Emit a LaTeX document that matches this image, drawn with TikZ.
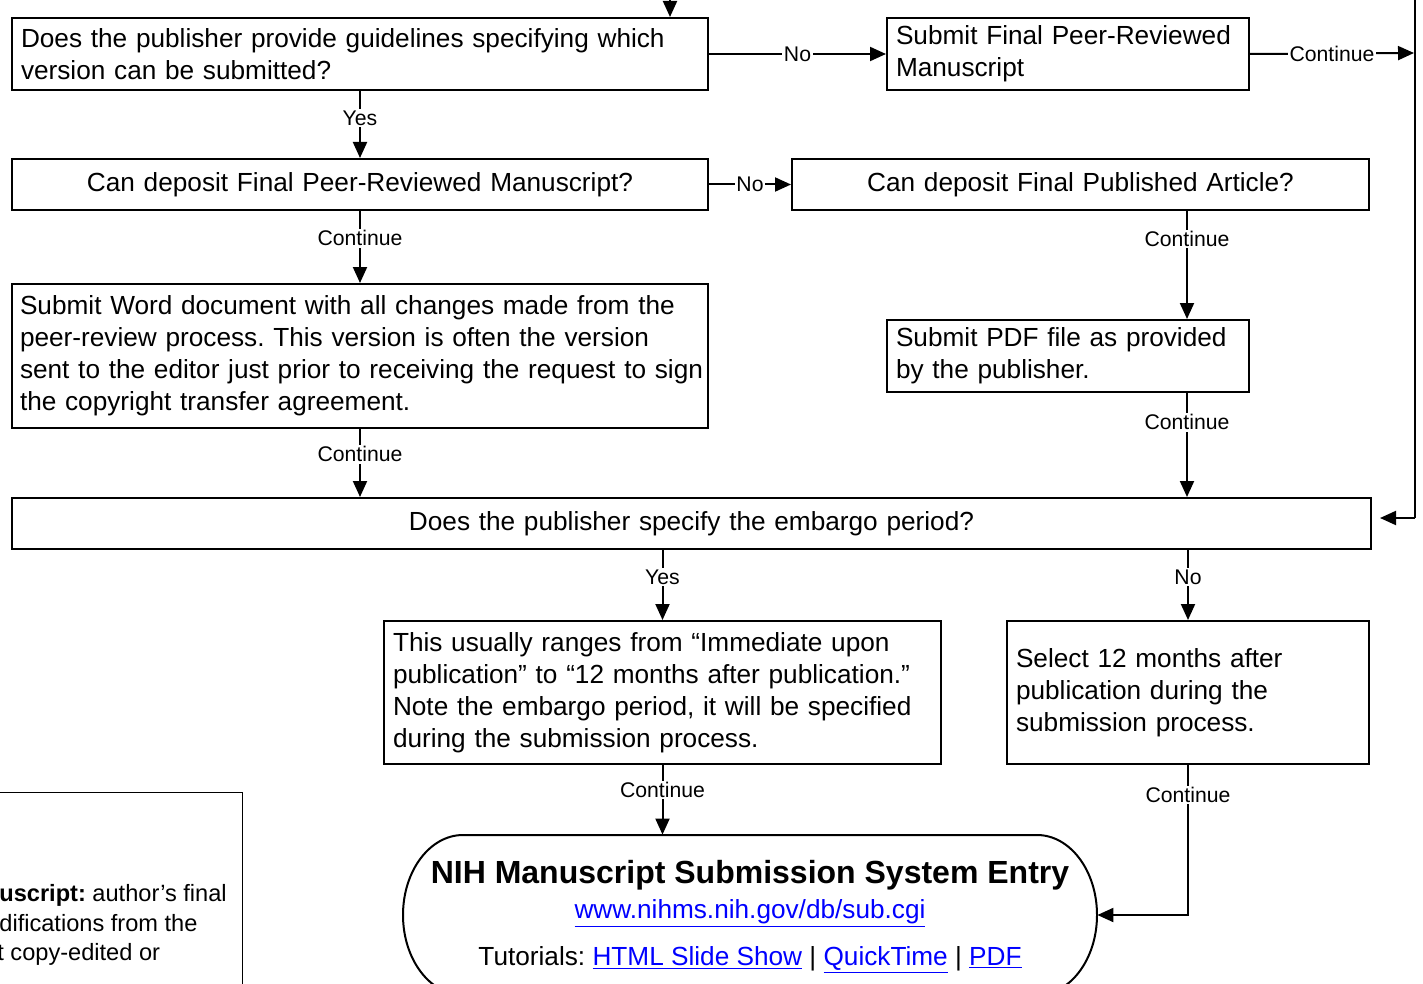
\documentclass[tikz,border=0pt]{standalone}
\usepackage{fontspec}
\setmainfont{Liberation Sans}
\usetikzlibrary{arrows.meta}
\definecolor{linkblue}{RGB}{0,0,255}
\frenchspacing
\newcommand\mainsz{\fontsize{13.1}{16}\selectfont}
\newcommand\lblsz{\fontsize{10.6}{12}\selectfont}
\newcommand\lnk[1]{\textcolor{linkblue}{\underline{#1}}}
\begin{document}
\begin{tikzpicture}[x=0.5pt,y=-0.5pt,
  box/.style={draw, line width=1pt, inner ysep=0pt, inner xsep=4.5pt, anchor=north west, font=\mainsz},
  arr/.style={-{Triangle[length=8pt,width=7pt]}, line width=1pt},
  ln/.style={line width=1pt},
  lbl/.style={fill=white, inner sep=0.8pt, font=\lblsz}]
\useasboundingbox (0,0) rectangle (1423,984);
\clip (0,0) rectangle (1423,984);

% boxes
\node[box, text width=339pt, minimum height=36pt, align=left] (b1) at (11,17)
  {Does the publisher provide guidelines specifying which\\version can be submitted?};
\node[box, text width=172pt, minimum height=36pt, align=left] (b2) at (886,17)
  {Submit Final Peer-Reviewed\\Manuscript};
\node[box, text width=339pt, minimum height=25.5pt, align=center] (b3) at (11,158)
  {Can deposit Final Peer-Reviewed Manuscript?};
\node[box, text width=279.5pt, minimum height=25.5pt, align=center] (b4) at (791,158)
  {Can deposit Final Published Article?};
\node[box, text width=340pt, inner xsep=4pt, minimum height=72pt, align=left] (b5) at (11,283)
  {Submit Word document with all changes made from the\\peer-review process. This version is often the version\\\mbox{sent to the editor just prior to receiving the request to sign}\\the copyright transfer agreement.};
\node[box, text width=172pt, minimum height=36pt, align=left] (b6) at (886,319)
  {Submit PDF file as provided\\by the publisher.};
\node[box, text width=670.5pt, minimum height=25.5pt, align=center] (b7) at (11,497)
  {Does the publisher specify the embargo period?};
\node[box, text width=269.5pt, minimum height=71.5pt, align=left] (b8) at (383,620)
  {This usually ranges from “Immediate upon\\publication” to “12 months after publication.”\\Note the embargo period, it will be specified\\during the submission process.};
\node[box, text width=172pt, minimum height=71.5pt, align=left] (b9) at (1006,620)
  {Select 12 months after\\publication during the\\submission process.};

% terminator
\node[minimum width=347pt, minimum height=80pt, inner sep=0pt] (t) at (750,915) {};
\draw[ln] (463,835) -- (1037,835)
  arc[start angle=-90, end angle=90, x radius=60, y radius=80] -- (463,995)
  arc[start angle=90, end angle=270, x radius=60, y radius=80] -- cycle;
\node[anchor=base, font=\fontsize{16}{19}\selectfont\bfseries, inner sep=0pt] (t1) at (750,883)
  {NIH Manuscript Submission System Entry};
\node[anchor=base, font=\mainsz, inner sep=0pt] (t2) at (750,918)
  {\lnk{www.nihms.nih.gov/db/sub.cgi}};
\node[anchor=base, font=\mainsz, inner sep=0pt] (t3) at (750,965)
  {Tutorials: \lnk{HTML Slide Show} | \lnk{QuickTime} | \lnk{PDF}};

% legend (cropped)
\node[draw, line width=0.6pt, anchor=north west, minimum width=126pt, minimum height=110pt, inner sep=0pt] (lg) at (-10,792) {};
\node[anchor=base west, inner sep=0pt, font=\fontsize{11.8}{14}\selectfont] (lg1) at (-1,901) {\textbf{uscript:} author’s final};
\node[anchor=base west, inner sep=0pt, font=\fontsize{11.8}{14}\selectfont] (lg2) at (-1,931) {difications from the};
\node[anchor=base west, inner sep=0pt, font=\fontsize{11.8}{14}\selectfont] (lg3) at (-3,960) {t copy-edited or};

% coordinates
\coordinate (top) at (670,-20);
\coordinate (r1) at (1414,53);
\coordinate (rt) at (1415,-20);
\coordinate (rb) at (1415,518);
\coordinate (rend) at (1380,518);
\coordinate (cx) at (1187,0);

% connectors
\draw[arr] (top) -- (top |- b1.north);
\draw[arr] (b1.east) -- node[lbl, pos=0.5] {No} (b2.west);
\draw[arr] (b2.east) -- node[lbl, pos=0.5] {Continue} (r1);
\draw[ln] (rt) -- (rb);
\draw[arr] (rb) -- (rend);
\draw[arr] (b1.south) -- node[lbl, pos=0.41] {Yes} (b3.north);
\draw[arr] (b3.east) -- node[lbl, pos=0.5] {No} (b4.west);
\draw[arr] (b3.south) -- node[lbl, pos=0.38] {Continue} (b5.north);
\draw[arr] (b5.south) -- node[lbl, pos=0.37] {Continue} (b5.south |- b7.north);
\draw[arr] (cx |- b4.south) -- node[lbl, pos=0.26] {Continue} (cx |- b6.north);
\draw[arr] (cx |- b6.south) -- node[lbl, pos=0.28] {Continue} (cx |- b7.north);
\draw[arr] (b8.north |- b7.south) -- node[lbl, pos=0.39] {Yes} (b8.north);
\draw[arr] (b9.north |- b7.south) -- node[lbl, pos=0.39] {No} (b9.north);
\draw[arr] (b8.south) -- node[lbl, pos=0.36] {Continue} (b8.south |- t.north);
\draw[arr] (b9.south) |- node[lbl, pos=0.1] {Continue} (t.east);
\end{tikzpicture}
\end{document}
